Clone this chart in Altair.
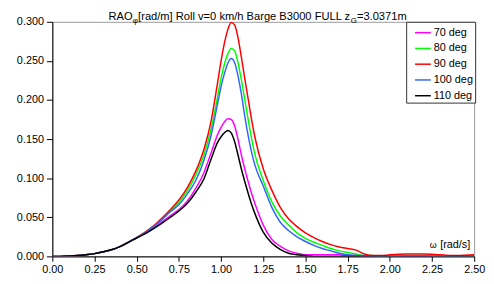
import altair as alt
import pandas as pd

omega = [0.00, 0.05, 0.10, 0.15, 0.20, 0.25, 0.30, 0.35, 0.40, 0.45, 0.50,
         0.55, 0.60, 0.65, 0.70, 0.75, 0.80, 0.85, 0.90, 0.94, 0.98,
         1.00, 1.02, 1.04, 1.06, 1.08, 1.10, 1.12, 1.14, 1.16, 1.18, 1.20,
         1.25, 1.30, 1.35, 1.40, 1.45, 1.50, 1.55, 1.60, 1.65, 1.70, 1.75,
         1.80, 1.85, 1.90, 1.95, 2.00, 2.10, 2.20, 2.30, 2.40, 2.50]

low_part = [0.0, 0.0, 0.0005, 0.0012, 0.0022, 0.0035, 0.0058, 0.0085, 0.0125, 0.018, 0.024]

rao_70 = low_part + [0.0295, 0.036, 0.044, 0.052, 0.060, 0.071, 0.087, 0.108,
                     0.132, 0.156,
                     0.165, 0.172, 0.176, 0.175, 0.167, 0.150, 0.130, 0.112, 0.096, 0.081, 0.068,
                     0.040, 0.022, 0.013, 0.007, 0.004, 0.002, 0.002, 0.002, 0.002, 0.002, 0.001,
                     0.001, 0.000, 0.000, 0.000, 0.000,
                     0.000, 0.000, 0.000, 0.000, 0.000]
rao_80 = low_part + [0.030, 0.038, 0.048, 0.058, 0.069, 0.084, 0.104, 0.131,
                     0.162, 0.205,
                     0.228, 0.246, 0.259, 0.266, 0.263, 0.248, 0.226, 0.201, 0.176, 0.152, 0.131,
                     0.097, 0.070, 0.052, 0.040, 0.030, 0.023, 0.018, 0.014, 0.010, 0.007, 0.005,
                     0.003, 0.001, 0.001, 0.000, 0.000,
                     0.001, 0.001, 0.000, 0.000, 0.000]
rao_90 = low_part + [0.031, 0.039, 0.049, 0.060, 0.072, 0.088, 0.109, 0.138,
                     0.172, 0.223,
                     0.250, 0.273, 0.290, 0.299, 0.296, 0.280, 0.255, 0.228, 0.202, 0.176, 0.153,
                     0.112, 0.085, 0.063, 0.048, 0.038, 0.030, 0.024, 0.019, 0.015, 0.012, 0.010,
                     0.008, 0.003, 0.001, 0.001, 0.002,
                     0.003, 0.003, 0.002, 0.001, 0.002]
rao_100 = low_part + [0.030, 0.038, 0.047, 0.057, 0.066, 0.080, 0.097, 0.124,
                      0.154, 0.196,
                      0.217, 0.234, 0.247, 0.253, 0.248, 0.231, 0.208, 0.180, 0.155, 0.134, 0.117,
                      0.090, 0.063, 0.044, 0.033, 0.025, 0.019, 0.014, 0.010, 0.007, 0.004, 0.002,
                      0.001, 0.001, 0.000, 0.000, 0.000,
                      0.000, 0.000, 0.000, 0.000, 0.000]
rao_110 = low_part[:-1] + [0.0235,
                      0.029, 0.0355, 0.0425, 0.050, 0.058, 0.068, 0.082, 0.100,
                      0.124, 0.146,
                      0.153, 0.158, 0.161, 0.158, 0.147, 0.130, 0.112, 0.096, 0.081, 0.067, 0.055,
                      0.031, 0.017, 0.009, 0.004, 0.002, 0.001, 0.000, 0.000, 0.000, 0.000, 0.000,
                      0.000, 0.000, 0.000, 0.000, 0.000,
                      0.000, 0.000, 0.000, 0.000, 0.000]

series_names = ["70 deg", "80 deg", "90 deg", "100 deg", "110 deg"]
series_values = [rao_70, rao_80, rao_90, rao_100, rao_110]
series_colors = ["#FF00FF", "#00FF00", "#FF0000", "#3366FF", "#000000"]

x_ticks = [0.0, 0.25, 0.5, 0.75, 1.0, 1.25, 1.5, 1.75, 2.0, 2.25, 2.5]
y_ticks = [0.0, 0.05, 0.10, 0.15, 0.20, 0.25, 0.30]

rows = []
for i, (name, vals) in enumerate(zip(series_names, series_values)):
    for w, v in zip(omega, vals):
        rows.append({"omega": w, "rao": v, "series": name, "order": i})
df = pd.DataFrame(rows)

FONT = "Liberation Sans"
W, H = 428, 238

lines = alt.Chart(df).mark_line(strokeWidth=1.5, interpolate="monotone", clip=True).encode(
    x=alt.X("omega:Q", scale=alt.Scale(domain=[0, 2.5], nice=False, zero=False),
            axis=alt.Axis(values=x_ticks, format=".2f", title=None, grid=False,
                          domainColor="black", tickColor="black", tickSize=5,
                          labelFontSize=11, labelFont=FONT, labelColor="black",
                          labelPadding=2, labelFlush=False)),
    y=alt.Y("rao:Q", scale=alt.Scale(domain=[0, 0.3], nice=False),
            axis=alt.Axis(values=y_ticks, format=".3f", title=None, grid=False,
                          domainColor="black", tickColor="black", tickSize=6,
                          labelFontSize=11, labelFont=FONT, labelColor="black",
                          labelPadding=3)),
    color=alt.Color("series:N",
                    scale=alt.Scale(domain=series_names, range=series_colors),
                    legend=alt.Legend(title=None, orient="none", legendX=359, legendY=0,
                                      fillColor="white", strokeColor="#333333",
                                      padding=2, symbolType="stroke", symbolSize=256,
                                      symbolOffset=6,
                                      symbolStrokeWidth=1.5, labelFontSize=11,
                                      labelFont=FONT, labelColor="black",
                                      rowPadding=2, labelOffset=2)),
    order=alt.Order("order:Q"),
    detail="series:N",
)

def txt(s, x, y, size=11.3, align="left"):
    return alt.Chart(pd.DataFrame({"t": [s]})).mark_text(
        font=FONT, fontSize=size, align=align, baseline="alphabetic", color="black"
    ).encode(x=alt.value(x), y=alt.value(y), text="t:N")

title_parts = [
    txt("RAO", 57, -2),
    txt("φ", 81.5, 1.5, size=8),
    txt("[rad/m] Roll v=0 km/h Barge B3000 FULL z", 87, -2),
    txt("G", 302.7, 1.5, size=8),
    txt("=3.0371m", 309, -2),
]
xlabel = [
    txt("[rad/s]", 424, 230, size=11, align="right"),
    txt("ω", 390, 230, size=9, align="right"),
]

chart = alt.layer(lines, *title_parts, *xlabel).properties(
    width=W, height=H,
    padding={"left": 45, "top": 12, "right": 12, "bottom": 24},
    autosize=alt.AutoSizeParams(type="none"),
).configure_view(stroke="#999999", strokeWidth=1)

chart.save("out.html", embed_options={"renderer": "svg", "actions": False})
